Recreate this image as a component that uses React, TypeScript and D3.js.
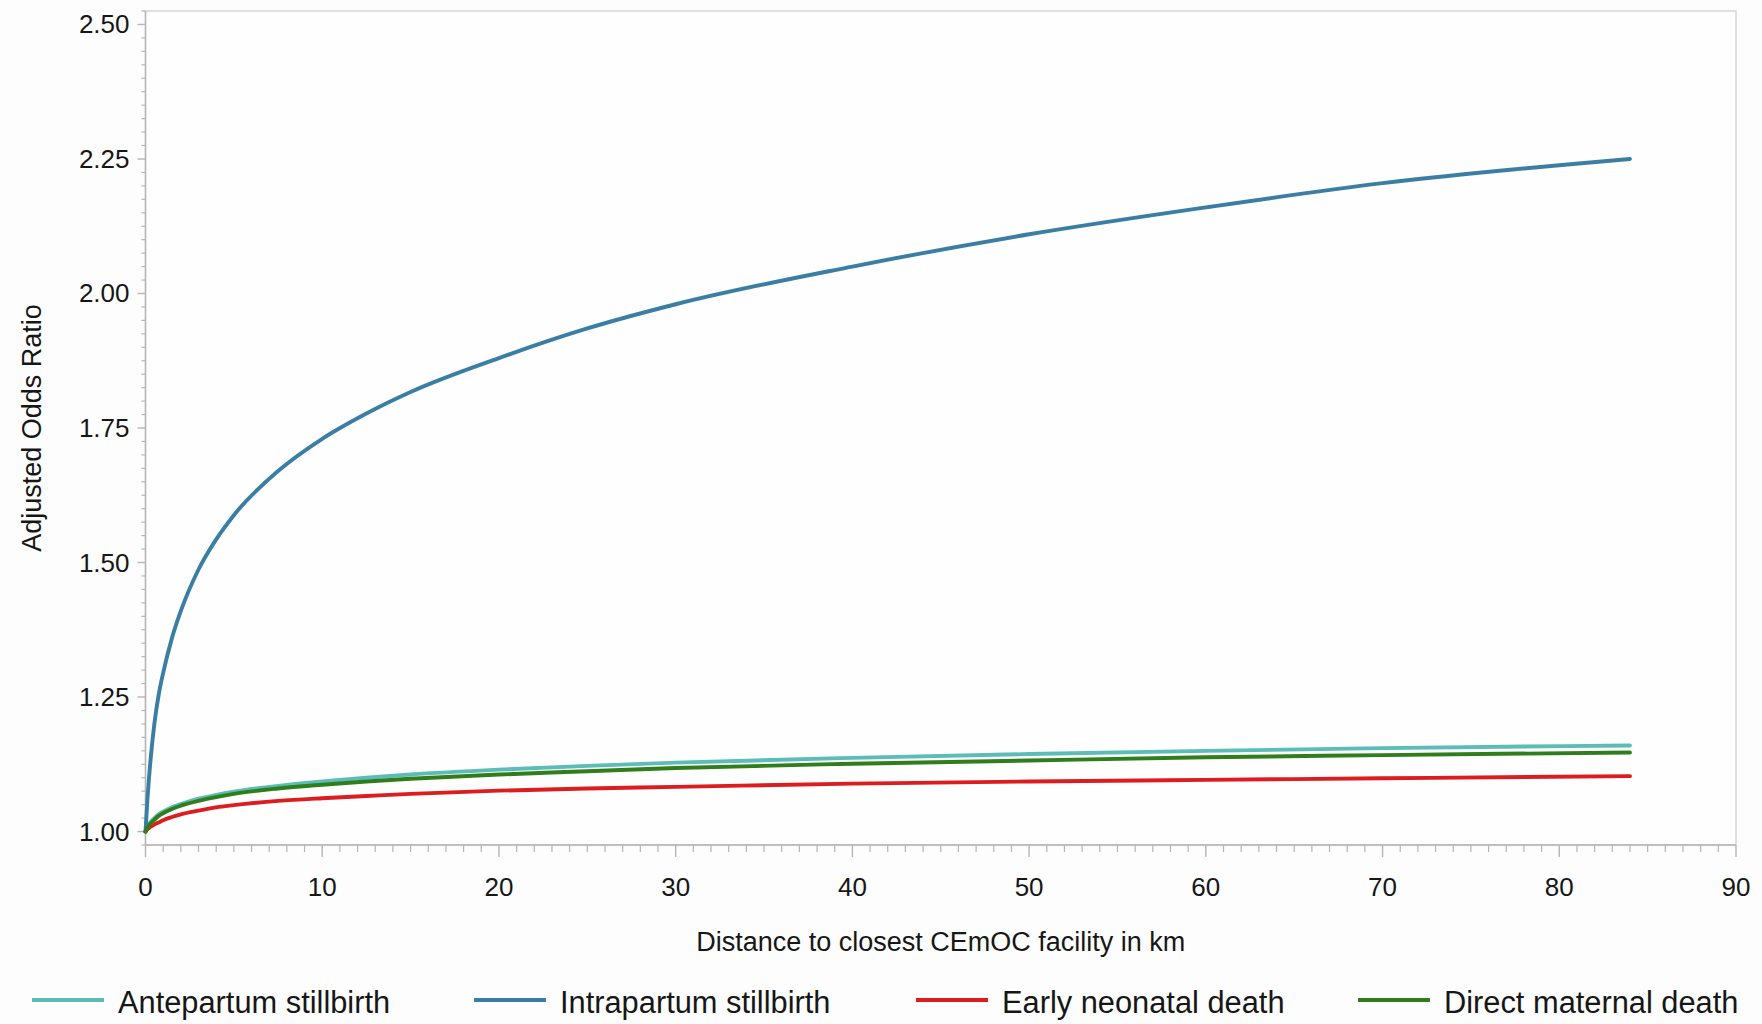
import { useMemo } from "react";
import * as d3 from "d3";

const distances = [0, 0.1, 0.25, 0.5, 0.75, 1, 1.5, 2, 3, 4, 5, 7.5, 10, 12.5, 15, 20, 25, 30, 40, 50, 60, 70, 84];

const antepartum = [1.0, 1.008, 1.016, 1.025, 1.032, 1.037, 1.045, 1.051, 1.061, 1.068, 1.074, 1.085, 1.093, 1.1, 1.106, 1.115, 1.122, 1.128, 1.137, 1.144, 1.15, 1.155, 1.16];
const intrapartum = [1.0, 1.055, 1.12, 1.2, 1.255, 1.295, 1.36, 1.41, 1.487, 1.543, 1.588, 1.67, 1.73, 1.777, 1.817, 1.88, 1.935, 1.98, 2.05, 2.11, 2.16, 2.205, 2.25];
const earlyNeonatal = [1.0, 1.004, 1.008, 1.013, 1.017, 1.021, 1.027, 1.032, 1.039, 1.045, 1.049, 1.057, 1.062, 1.066, 1.07, 1.076, 1.08, 1.083, 1.089, 1.093, 1.096, 1.099, 1.103];
const directMaternal = [1.0, 1.007, 1.014, 1.022, 1.029, 1.034, 1.042, 1.048, 1.057, 1.064, 1.07, 1.08, 1.087, 1.093, 1.098, 1.106, 1.112, 1.118, 1.126, 1.132, 1.138, 1.142, 1.147];

const seriesNames = ["Antepartum stillbirth", "Intrapartum stillbirth", "Early neonatal death", "Direct maternal death"];
const seriesColors = ["#5bbcb8", "#3a7fa3", "#dc1c1f", "#2f7d1b"];

const xTicks = [0, 10, 20, 30, 40, 50, 60, 70, 80, 90];
const yTicks = [1.0, 1.25, 1.5, 1.75, 2.0, 2.25, 2.5];

const FONT = "'Liberation Sans', Arial, Helvetica, sans-serif";

export default function App() {
  const width = 1762;
  const height = 1024;
  const margin = { top: 11, right: 26, bottom: 179, left: 145.5 };
  const innerW = width - margin.left - margin.right;
  const innerH = height - margin.top - margin.bottom;

  const x = useMemo(() => d3.scaleLinear().domain([0, 90]).range([0, innerW]), [innerW]);
  const y = useMemo(() => d3.scaleLinear().domain([0.975, 2.525]).range([innerH, 0]), [innerH]);

  const allSeries = [antepartum, intrapartum, earlyNeonatal, directMaternal];

  const line = d3
    .line<number>()
    .x((_, i) => x(distances[i]))
    .y((d) => y(d))
    .curve(d3.curveMonotoneX);

  const xMinor = d3.range(0, 91, 1).filter((v) => v % 10 !== 0);
  const yMinor = d3
    .range(0, 63)
    .map((i) => 0.975 + i * 0.025)
    .filter((v) => Math.abs(v * 4 - Math.round(v * 4)) > 1e-6);

  const axisColor = "#b5b5b5";
  const textColor = "#161616";

  return (
    <svg
      width={width}
      height={height}
      style={{ position: "absolute", left: 0, top: 0, background: "#fdfdfd" }}
    >
      <g transform={`translate(${margin.left},${margin.top})`}>
        {/* frame */}
        <rect x={0} y={0} width={innerW} height={innerH} fill="#fefefe" stroke="#cccccc" strokeWidth={1.2} />
        <line x1={0} x2={0} y1={0} y2={innerH} stroke={axisColor} strokeWidth={1.5} />
        <line x1={0} x2={innerW} y1={innerH} y2={innerH} stroke={axisColor} strokeWidth={1.5} />

        {/* y ticks */}
        {yMinor.map((v, i) => (
          <line key={"ym" + i} x1={-4} x2={0} y1={y(v)} y2={y(v)} stroke={axisColor} strokeWidth={1.2} />
        ))}
        {yTicks.map((v) => (
          <g key={"y" + v}>
            <line x1={-8} x2={0} y1={y(v)} y2={y(v)} stroke={axisColor} strokeWidth={1.4} />
            <text
              x={-16}
              y={y(v)}
              textAnchor="end"
              dominantBaseline="central"
              fontSize={26}
              fontFamily={FONT}
              fill={textColor}
            >
              {v.toFixed(2)}
            </text>
          </g>
        ))}

        {/* x ticks */}
        {xMinor.map((v) => (
          <line key={"xm" + v} x1={x(v)} x2={x(v)} y1={innerH} y2={innerH + 7} stroke={axisColor} strokeWidth={1.2} />
        ))}
        {xTicks.map((v) => (
          <g key={"x" + v}>
            <line x1={x(v)} x2={x(v)} y1={innerH} y2={innerH + 12} stroke={axisColor} strokeWidth={1.4} />
            <text
              x={x(v)}
              y={innerH + 42}
              textAnchor="middle"
              dominantBaseline="central"
              fontSize={26}
              fontFamily={FONT}
              fill={textColor}
            >
              {v}
            </text>
          </g>
        ))}

        {/* curves */}
        {allSeries.map((s, k) => (
          <path
            key={seriesNames[k]}
            d={line(s) || ""}
            fill="none"
            stroke={seriesColors[k]}
            strokeWidth={3.9}
            strokeLinecap="round"
            strokeLinejoin="round"
          />
        ))}
      </g>

      {/* axis titles */}
      <text
        x={margin.left + innerW / 2}
        y={942}
        textAnchor="middle"
        dominantBaseline="central"
        fontSize={27}
        fontFamily={FONT}
        fill={textColor}
      >
        Distance to closest CEmOC facility in km
      </text>
      <text
        transform={`translate(32,${margin.top + innerH / 2}) rotate(-90)`}
        textAnchor="middle"
        dominantBaseline="central"
        fontSize={27}
        fontFamily={FONT}
        fill={textColor}
      >
        Adjusted Odds Ratio
      </text>

      {/* legend */}
      {seriesNames.map((name, i) => {
        const lx = 32 + i * 442;
        return (
          <g key={"lg" + name}>
            <line x1={lx} x2={lx + 72} y1={1000} y2={1000} stroke={seriesColors[i]} strokeWidth={4.2} />
            <text
              x={lx + 86}
              y={1002}
              dominantBaseline="central"
              fontSize={30.8}
              fontFamily={FONT}
              fill={textColor}
            >
              {name}
            </text>
          </g>
        );
      })}
    </svg>
  );
}
